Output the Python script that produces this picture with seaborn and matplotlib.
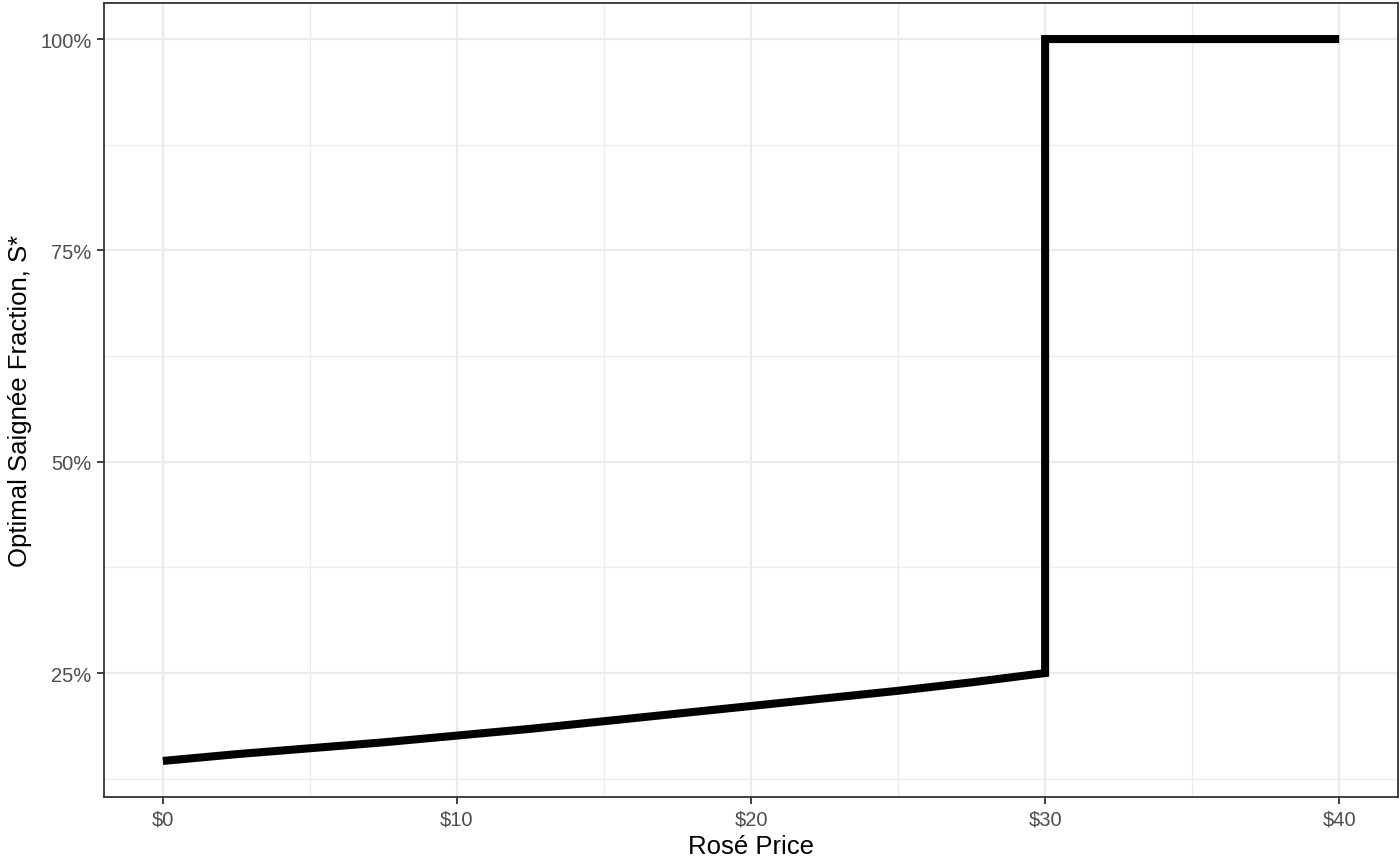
import numpy as np
import pandas as pd
import seaborn as sns
import matplotlib.pyplot as plt
from matplotlib.ticker import FuncFormatter, MultipleLocator

# values
price = [0, 2.5, 5, 7.5, 10, 12.5, 15, 17.5, 20, 22.5, 25, 27.5, 30, 30, 40]
share = [0.146, 0.154, 0.161, 0.168, 0.176, 0.184, 0.193, 0.202, 0.211, 0.220, 0.229, 0.239, 0.250, 1.0, 1.0]

data = pd.DataFrame({'price': price, 'share': share})

sns.set_theme(style='white')
plt.rcParams['font.family'] = ['Liberation Sans', 'DejaVu Sans']

fig = plt.figure(figsize=(14, 8.62), dpi=100)
ax = fig.add_axes([0.0743, 0.0742, 0.9243, 0.9212])

sns.lineplot(data=data, x='price', y='share', sort=False, estimator=None,
             color='black', linewidth=5.8, ax=ax,
             solid_capstyle='butt', solid_joinstyle='miter')

ymin, ymax = 0.146, 1.0
pad = 0.05 * (ymax - ymin)
ax.set_ylim(ymin - pad, ymax + pad)
ax.set_xlim(-2, 42)

ax.xaxis.set_major_locator(MultipleLocator(10))
ax.xaxis.set_minor_locator(MultipleLocator(5))
ax.yaxis.set_major_locator(MultipleLocator(0.25))
ax.yaxis.set_minor_locator(MultipleLocator(0.125))
ax.xaxis.set_major_formatter(FuncFormatter(lambda v, p: f'${v:.0f}'))
ax.yaxis.set_major_formatter(FuncFormatter(lambda v, p: f'{v*100:.0f}%'))

ax.grid(True, which='major', color='#EBEBEB', linewidth=1.6)
ax.grid(True, which='minor', color='#EBEBEB', linewidth=0.9)
ax.set_axisbelow(True)

for s in ax.spines.values():
    s.set_color('#333333')
    s.set_linewidth(1.3)

ax.tick_params(which='major', length=5, width=1.3, color='#333333',
               labelcolor='#4D4D4D', labelsize=14.5, pad=4, bottom=True, left=True)
ax.tick_params(which='minor', length=0)

ax.set_xlabel('Rosé Price', fontsize=18.5, color='black', labelpad=4)
ax.set_ylabel('Optimal Saignée Fraction, S*', fontsize=18.5, color='black', labelpad=6)

fig.savefig('out.png', dpi=100)
